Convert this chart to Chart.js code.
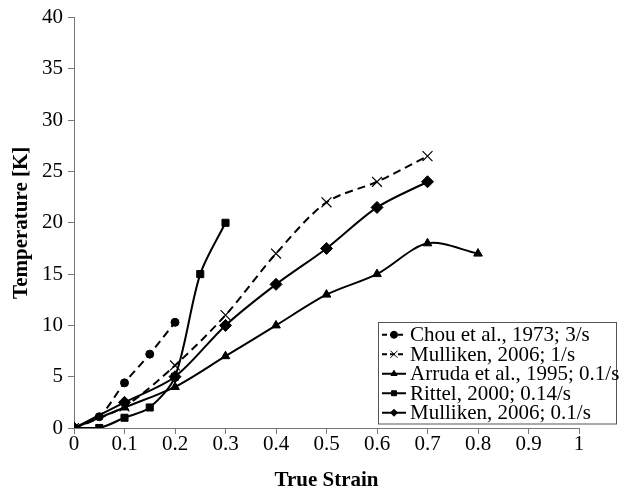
<!DOCTYPE html>
<html>
<head>
<meta charset="utf-8">
<script src="https://cdn.jsdelivr.net/npm/chart.js@4/dist/chart.umd.min.js"></script>
</head>
<body style="margin:0;background:#fff">
<div style="width:620px;height:491px"><canvas id="chart"></canvas></div>
<script>
// strain values and temperatures
const chouStrain = [0, 0.05, 0.1, 0.15, 0.2];
const chouTemp = [0, 1.1, 4.4, 7.2, 10.3];

const mull1Strain = [0, 0.1, 0.2, 0.3, 0.4, 0.5, 0.6, 0.7];
const mull1Temp = [0, 2.1, 6.1, 11, 17, 22, 24, 26.5];

const arrudaStrain = [0, 0.1, 0.2, 0.3, 0.4, 0.5, 0.6, 0.7, 0.8];
const arrudaTemp = [0, 2, 4, 7, 10, 13, 15, 18, 17];

const rittelStrain = [0, 0.05, 0.1, 0.15, 0.2, 0.25, 0.3];
const rittelTemp = [0, 0, 1, 2, 5, 15, 20];

const mull01Strain = [0, 0.1, 0.2, 0.3, 0.4, 0.5, 0.6, 0.7];
const mull01Temp = [0, 2.5, 5, 10, 14, 17.5, 21.5, 24];

const seriesNames = [
    'Chou et al., 1973; 3/s',
    'Mulliken, 2006; 1/s',
    'Arruda et al., 1995; 0.1/s',
    'Rittel, 2000; 0.14/s',
    'Mulliken, 2006; 0.1/s'
];

const xTicks = [0, 0.1, 0.2, 0.3, 0.4, 0.5, 0.6, 0.7, 0.8, 0.9, 1];
const yTicks = [0, 5, 10, 15, 20, 25, 30, 35, 40];

const xTitle = 'True Strain';
const yTitle = 'Temperature [K]';

const FONT = 'Liberation Serif';

function toPoints(xs, ys) {
    return xs.map((x, i) => ({x, y: ys[i]}));
}

function makeSeries(label, xs, ys, pointStyle, radius, dashed, filled) {
    return {
        label,
        data: toPoints(xs, ys),
        borderColor: '#000',
        backgroundColor: filled ? '#000' : 'rgba(0,0,0,0)',
        pointBackgroundColor: '#000',
        pointBorderColor: '#000',
        pointBorderWidth: filled ? 1 : 1.2,
        borderWidth: 2,
        borderDash: dashed ? [8, 5] : [],
        pointStyle,
        pointRadius: radius,
        pointHoverRadius: radius,
        tension: 0.3,
        fill: false
    };
}

const datasets = [
    makeSeries(seriesNames[0], chouStrain, chouTemp, 'circle', 4, true, true),
    makeSeries(seriesNames[1], mull1Strain, mull1Temp, 'crossRot', 7, true, false),
    makeSeries(seriesNames[2], arrudaStrain, arrudaTemp, 'triangle', 5, false, true),
    makeSeries(seriesNames[3], rittelStrain, rittelTemp, 'rect', 5, false, true),
    makeSeries(seriesNames[4], mull01Strain, mull01Temp, 'rectRot', 6, false, true)
];

// legend box inside the plot area + axis titles
const boxLegend = {
    id: 'boxLegend',
    afterDraw(chart) {
        const ctx = chart.ctx;
        const left = 378, top = 322, w = 238, rowH = 19.5;
        const h = rowH * datasets.length + 4;
        ctx.save();
        ctx.fillStyle = '#fff';
        ctx.fillRect(left, top, w, h);
        ctx.strokeStyle = '#555';
        ctx.lineWidth = 1;
        ctx.strokeRect(left + 0.5, top + 0.5, w, h);
        ctx.font = '21px "Liberation Serif"';
        ctx.textBaseline = 'middle';
        ctx.textAlign = 'left';
        datasets.forEach((ds, i) => {
            const cy = top + 3 + rowH * (i + 0.5);
            ctx.strokeStyle = '#000';
            ctx.lineWidth = 2;
            ctx.setLineDash(ds.borderDash.length ? [5, 3] : []);
            ctx.beginPath();
            ctx.moveTo(left + 4, cy);
            ctx.lineTo(left + 28, cy);
            ctx.stroke();
            ctx.setLineDash([]);
            ctx.fillStyle = '#000';
            ctx.lineWidth = 1;
            Chart.helpers.drawPoint(ctx, {
                pointStyle: ds.pointStyle,
                radius: ds.pointStyle === 'crossRot' ? 5 : 3.5,
                borderWidth: 1
            }, left + 16, cy);
            ctx.fillStyle = '#000';
            ctx.fillText(ds.label, left + 32, cy + 1);
        });

        // axis titles
        const area = chart.chartArea;
        ctx.font = 'bold 21px "Liberation Serif"';
        ctx.textAlign = 'center';
        ctx.fillText(xTitle, (area.left + area.right) / 2, 481);
        ctx.translate(22, (area.top + area.bottom) / 2);
        ctx.rotate(-Math.PI / 2);
        ctx.fillText(yTitle, 0, 0);
        ctx.restore();
    }
};

const chart = new Chart(document.getElementById('chart'), {
    type: 'line',
    data: {datasets},
    plugins: [boxLegend],
    options: {
        responsive: true,
        maintainAspectRatio: false,
        animation: false,
        layout: {padding: {top: 16, right: 41, left: 10, bottom: 0}},
        plugins: {
            legend: {display: false},
            tooltip: {enabled: false}
        },
        scales: {
            x: {
                type: 'linear',
                min: 0,
                max: 1,
                afterBuildTicks: (axis) => { axis.ticks = xTicks.map(v => ({value: v})); },
                afterFit: (axis) => { axis.height += 36; },
                grid: {display: true, drawOnChartArea: false, drawTicks: true, tickLength: 6, color: '#777'},
                border: {color: '#777', width: 1},
                ticks: {
                    color: '#000',
                    font: {family: FONT, size: 21, lineHeight: 1},
                    padding: 0,
                    maxRotation: 0,
                    callback: (v) => String(v)
                }
            },
            y: {
                type: 'linear',
                min: 0,
                max: 40,
                afterBuildTicks: (axis) => { axis.ticks = yTicks.map(v => ({value: v})); },
                afterFit: (axis) => { axis.width += 27; },
                grid: {display: true, drawOnChartArea: false, drawTicks: true, tickLength: 6, color: '#777'},
                border: {color: '#777', width: 1},
                ticks: {
                    color: '#000',
                    font: {family: FONT, size: 21},
                    padding: 5
                }
            }
        }
    }
});

// redraw once fonts have settled
document.fonts.ready.then(() => setTimeout(() => chart.update('none'), 200));
</script>
</body>
</html>
